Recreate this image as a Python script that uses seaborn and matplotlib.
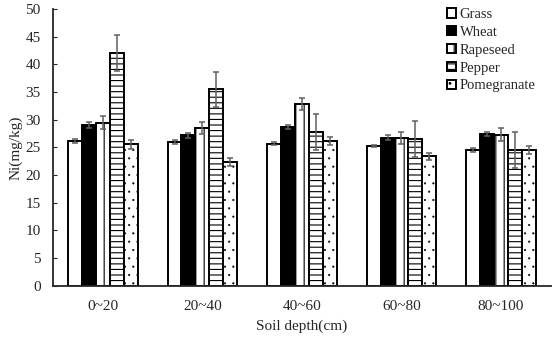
"""
Ni content by soil depth for five crops - grouped bars with hatching
"""
import numpy as np
import pandas as pd
import matplotlib
matplotlib.use('Agg')
import matplotlib.pyplot as plt
import seaborn as sns

depths = ['0~20', '20~40', '40~60', '60~80', '80~100']
crops = ['Grass', 'Wheat', 'Rapeseed', 'Pepper', 'Pomegranate']

# mean Ni (mg/kg), one list per crop, ordered by depth
grass = [26.2, 26.0, 25.7, 25.2, 24.5]
wheat = [29.1, 27.2, 28.7, 26.8, 27.4]
rapeseed = [29.5, 28.5, 32.8, 26.7, 27.3]
pepper = [42.0, 35.5, 27.8, 26.5, 24.5]
pomegranate = [25.6, 22.4, 26.2, 23.4, 24.5]

# error bar half-lengths
grass_err = [0.4, 0.3, 0.3, 0.2, 0.4]
wheat_err = [0.5, 0.4, 0.4, 0.4, 0.4]
rapeseed_err = [1.1, 1.1, 1.1, 1.1, 1.2]
pepper_err = [3.25, 3.2, 3.3, 3.2, 3.3]
pomegranate_err = [0.8, 0.75, 0.7, 0.6, 0.7]

means = [grass, wheat, rapeseed, pepper, pomegranate]
errs = [grass_err, wheat_err, rapeseed_err, pepper_err, pomegranate_err]

rows = []
for crop, vals in zip(crops, means):
    for d, v in zip(depths, vals):
        rows.append({'depth': d, 'crop': crop, 'ni': v})
df = pd.DataFrame(rows)

sns.set_style('ticks')
plt.rcParams['font.family'] = ['Liberation Serif', 'DejaVu Serif']
plt.rcParams['hatch.linewidth'] = 0.8

fig = plt.figure(figsize=(5.53, 3.39), dpi=100)
ax = fig.add_axes([0.096, 0.157, 0.9, 0.816])

face = ['white', 'black', 'white', 'white', 'white']
hatches = ['', '', '||', '---', '..']
hatch_lw = [0.8, 0.8, 0.8, 0.8, 0.3]

sns.barplot(data=df, x='depth', y='ni', hue='crop', order=depths,
            hue_order=crops, palette=face, width=0.7, errorbar=None,
            saturation=1, edgecolor='black', linewidth=1.4, ax=ax)

bar_groups = list(ax.containers)
for i, cont in enumerate(bar_groups):
    xs = []
    for bar in cont:
        bar.set_hatch(hatches[i])
        bar.set_facecolor(face[i])
        if hasattr(bar, 'set_hatch_linewidth'):
            bar.set_hatch_linewidth(hatch_lw[i])
        xs.append(bar.get_x() + bar.get_width() / 2)
    ax.errorbar(xs, means[i], yerr=errs[i], fmt='none', ecolor='#606060',
                elinewidth=1.1, capsize=2.5, capthick=1.1, zorder=5)

ax.set_ylim(0, 50)
ax.set_yticks(np.arange(0, 51, 5))
ax.set_xlim(-0.5, 4.5)
ax.tick_params(axis='y', direction='in', length=3, labelsize=11, pad=9)
ax.tick_params(axis='x', length=0, labelsize=11, pad=10)
ax.set_xlabel('Soil depth(cm)', fontsize=11, labelpad=5)
ax.set_ylabel('Ni(mg/kg)', fontsize=11, labelpad=2)
sns.despine(ax=ax)
for sp in ['left', 'bottom']:
    ax.spines[sp].set_linewidth(1.3)

leg = ax.legend(loc='upper left', bbox_to_anchor=(0.78, 1.025), frameon=False,
                fontsize=10.5, handlelength=0.6, handleheight=0.6,
                handletextpad=0.25, labelspacing=0.33, borderaxespad=0)
for h, c, hh in zip(leg.legend_handles, face, hatches):
    h.set_facecolor(c)
    h.set_edgecolor('black')
    h.set_linewidth(1.4)
    h.set_hatch(hh)

plt.savefig('out.png', dpi=100)
